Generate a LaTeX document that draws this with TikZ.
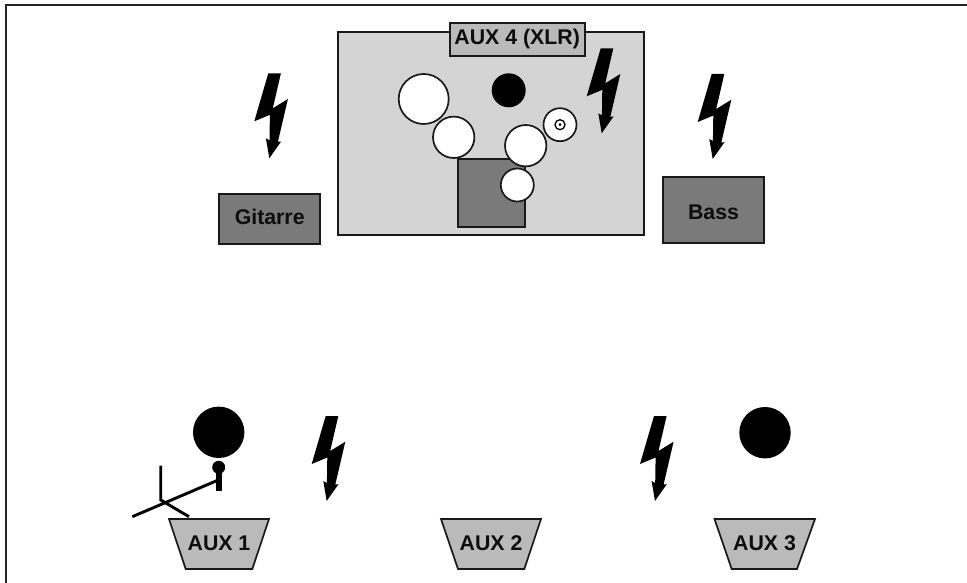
\documentclass[tikz,border=0pt]{standalone}
\usepackage{fontspec}
\setmainfont{Liberation Sans}
\tikzset{
  x=1pt,y=-1pt,
  frameline/.style={draw=black!85,line width=2.6pt},
  outline/.style={draw=black!90,line width=1.7pt},
  stage/.style={outline,fill=black!17},
  darkbox/.style={outline,fill=black!52},
  midbox/.style={outline,fill=black!27},
  whitecircle/.style={outline,fill=white},
  blackdisc/.style={fill=black},
  boltshape/.style={fill=black},
  standline/.style={draw=black,line width=2.9pt},
  lbl/.style={font=\fontsize{21.3}{24}\selectfont\bfseries,text=black!95,inner sep=0pt,anchor=center},
  bolt/.pic={\fill[boltshape] (0,0)--(12.6,0)--(4.5,35)--(19.6,25.7)--(9.6,68.5)--(12.8,68.2)--(1,85)--(-2.4,65)--(1.2,67)--(1.6,41.5)--(-14,48)--cycle;}
}
\begin{document}
\begin{tikzpicture}
\useasboundingbox (0,0) rectangle (967,583);
\draw[frameline] (6,583) -- (6,5) -- (967,5);
% drum riser
\draw[stage] (338.3,31.7) rectangle (644.3,235.3);
\draw[darkbox] (458.3,159.3) rectangle (525,226.7);
\node[whitecircle,circle,minimum size=50pt,inner sep=0pt] (c1) at (423.7,99) {};
\node[whitecircle,circle,minimum size=41.4pt,inner sep=0pt] (c2) at (453.7,137.3) {};
\node[whitecircle,circle,minimum size=41.4pt,inner sep=0pt] (c3) at (525.7,145.7) {};
\node[whitecircle,circle,minimum size=33pt,inner sep=0pt] (c4) at (517.3,185) {};
\node[whitecircle,circle,minimum size=33pt,inner sep=0pt] (c5) at (560,124.7) {};
\node[draw=black,line width=1.3pt,circle,minimum size=10pt,inner sep=0pt] (c5r) at (560,124.7) {};
\fill[black] (c5r.center) circle (1.5);
\node[blackdisc,circle,minimum size=34pt,inner sep=0pt] (drummer) at (508.7,90.3) {};
\node[midbox,minimum width=135pt,minimum height=33pt,inner sep=0pt] (aux4box) at (517.2,39.2) {};
\node[lbl] (aux4) at (517.2,39.2) {AUX 4 (XLR)};
% amps
\draw[darkbox] (219,194) rectangle (320.3,244);
\node[lbl] (gitarre) at (269.7,217) {Gitarre};
\draw[darkbox] (663,176.7) rectangle (764,243.3);
\node[lbl] (bass) at (713.5,212.5) {Bass};
% bolts
\pic at (268.3,73.3) {bolt};
\pic at (600.7,48.3) {bolt};
\pic at (711.7,74) {bolt};
\pic at (325.7,416) {bolt};
\pic at (654,416) {bolt};
% singers
\node[blackdisc,circle,minimum size=51.4pt,inner sep=0pt] (singer1) at (218.7,432.3) {};
\node[blackdisc,circle,minimum size=51.4pt,inner sep=0pt] (singer3) at (765,432.7) {};
% mic stand
\coordinate (hub) at (160.7,500);
\coordinate (boomtop) at (218.3,480);
\coordinate (boomend) at (132.3,516.7);
\coordinate (legtop) at (160.7,465.7);
\coordinate (legend) at (189,516.7);
\draw[standline] (boomend) -- (boomtop);
\draw[standline] (legtop) -- (hub) -- (legend);
\fill[black] (215.7,467) rectangle (221.7,490.7);
\node[blackdisc,circle,minimum size=13pt,inner sep=0pt] (mic) at (218.7,467.3) {};
% monitors
\draw[midbox] (169,519) -- (269,519) -- (252.3,569) -- (185.7,569) -- cycle;
\node[lbl] (aux1) at (219,543.5) {AUX 1};
\draw[midbox] (441,519) -- (541,519) -- (524.3,569) -- (458,569) -- cycle;
\node[lbl] (aux2) at (491,543.5) {AUX 2};
\draw[midbox] (714.5,519) -- (815,519) -- (797,569) -- (731.7,569) -- cycle;
\node[lbl] (aux3) at (764.5,543.5) {AUX 3};
\end{tikzpicture}
\end{document}
